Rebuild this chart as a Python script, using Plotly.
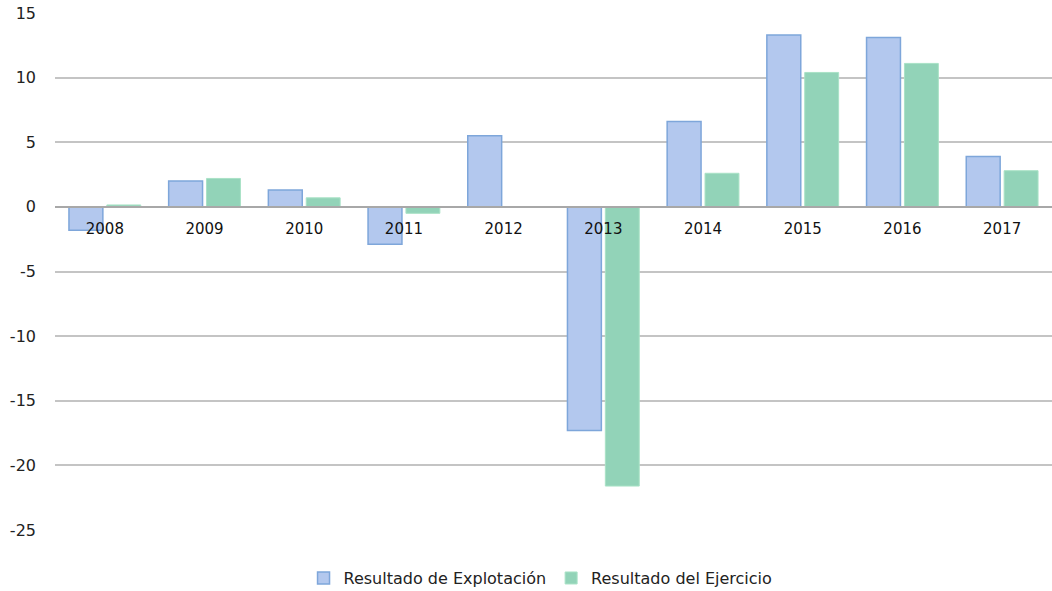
import plotly.graph_objects as go

years = ["2008", "2009", "2010", "2011", "2012", "2013", "2014", "2015", "2016", "2017"]
explotacion = [-1.8, 2.0, 1.3, -2.9, 5.5, -17.3, 6.6, 13.3, 13.1, 3.9]
ejercicio = [0.15, 2.2, 0.7, -0.5, 0.0, -21.6, 2.6, 10.4, 11.1, 2.8]
y_ticks = [15, 10, 5, 0, -5, -10, -15, -20, -25]
y_tick_text = [str(v) for v in y_ticks]

font_family = "DejaVu Sans"

fig = go.Figure()
fig.add_trace(go.Bar(
    x=years, y=explotacion, name="Resultado de Explotación",
    marker=dict(color="#b3c8ee", line=dict(color="#7ea6da", width=1.5)),
))
fig.add_trace(go.Bar(
    x=years, y=ejercicio, name="Resultado del Ejercicio",
    marker=dict(color="#92d3b8", line=dict(color="#a9e2c6", width=1)),
))

fig.update_layout(
    width=1052, height=591,
    margin=dict(l=55, r=0, t=13, b=61, autoexpand=False),
    paper_bgcolor="white", plot_bgcolor="white",
    barmode="group", bargap=0.24, bargroupgap=0.105,
    font=dict(family=font_family, size=15, color="#222222"),
    showlegend=True,
    legend=dict(orientation="h", x=0.487, xanchor="center", y=-0.093, yanchor="middle",
                font=dict(size=16, color="#222222"), itemwidth=30, traceorder="normal"),
    xaxis=dict(
        type="category", anchor="free", position=0.625, automargin=False,
        showline=True, linecolor="#a8a8a8", linewidth=1.5,
        showgrid=False, ticks="", ticklabelstandoff=8,
        tickfont=dict(size=15, color="#111111"),
    ),
    yaxis=dict(
        range=[-25, 15], tickvals=y_ticks, ticktext=y_tick_text, automargin=False,
        showgrid=True, gridcolor="#c4c4c4", gridwidth=1.5,
        zeroline=True, zerolinecolor="#a8a8a8", zerolinewidth=1.5,
        ticks="", ticklabelstandoff=18,
        tickfont=dict(size=16, color="#222222"),
    ),
)

fig.write_html("out.html", config={"displayModeBar": False},
               post_script="document.body.style.margin='0';")
